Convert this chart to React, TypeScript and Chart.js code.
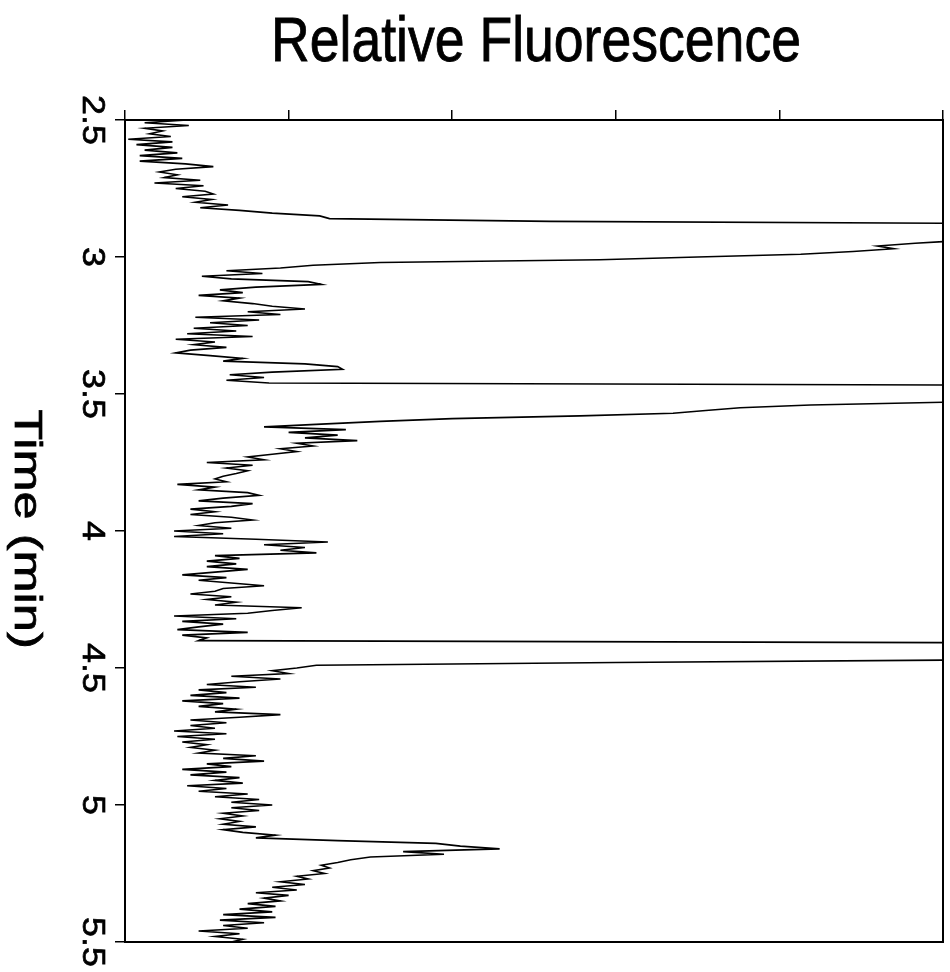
import React, { useEffect, useRef } from "react";
import { Chart, registerables } from "chart.js";

Chart.register(...registerables);

const TITLE = "Relative Fluorescence";
const Y_LABEL = "Time (min)";
const X_MIN = 0;
const X_MAX = 5;
const X_TICK_STEP = 1;
const Y_TICKS = [2.5, 3, 3.5, 4, 4.5, 5, 5.5];
const Y_TICK_LABELS = ["2.5", "3", "3.5", "4", "4.5", "5", "5.5"];

// sampling grid of the trace (min)
const TIME_START = 2.5;
const TIME_STEP = 0.01;

// relative fluorescence read at each sample (values above 5 run off the plot)
const FLUORESCENCE = [
  0.38, 0.12, 0.39, 0.12, 0.23, 0.15, 0.28, 0.02, 0.29, 0.07,
  0.29, 0.12, 0.32, 0.09, 0.35, 0.09, 0.37, 0.54, 0.31, 0.21,
  0.32, 0.24, 0.46, 0.18, 0.48, 0.31, 0.49, 0.54, 0.35, 0.53,
  0.43, 0.63, 0.46, 0.70, 0.90, 1.19, 1.25, 2.6, 6.0, 7.0,
  7.5, 7.5, 7.0, 6.0, 5.1, 4.83, 4.6, 4.7, 4.45, 4.13,
  3.5, 2.9, 1.56, 1.15, 0.95, 0.62, 0.84, 0.47, 0.65, 1.12,
  1.2, 0.8, 0.58, 0.72, 0.45, 0.7, 0.6, 0.78, 0.9, 1.1,
  0.75, 0.95, 0.43, 0.82, 0.52, 0.75, 0.42, 0.68, 0.38, 0.78,
  0.31, 0.55, 0.42, 0.62, 0.4, 0.31, 0.52, 0.72, 0.6, 1.1,
  1.3, 1.33, 0.9, 0.64, 0.85, 0.62, 0.88, 6.5, 7.5, 8,
  8, 7.5, 6.5, 5.0, 4.19, 3.76, 3.55, 3.35, 2.78, 2.0,
  1.56, 1.2, 0.85, 1.35, 1.0, 1.3, 1.1, 1.42, 1.05, 1.15,
  0.95, 1.05, 0.9, 0.75, 0.85, 0.5, 0.78, 0.62, 0.75, 0.68,
  0.6, 0.55, 0.62, 0.32, 0.55, 0.45, 0.75, 0.82, 0.6, 0.45,
  0.78, 0.65, 0.4, 0.55, 0.4, 0.65, 0.78, 0.55, 0.45, 0.65,
  0.3, 0.6, 0.3, 0.8, 1.24, 0.85, 1.1, 0.95, 1.17, 0.55,
  0.7, 0.5, 0.68, 0.5, 0.75, 0.55, 0.35, 0.62, 0.45, 0.65,
  0.85, 0.6, 0.55, 0.4, 0.65, 0.5, 0.68, 0.55, 1.08, 0.9,
  0.75, 0.3, 0.68, 0.35, 0.6, 0.45, 0.32, 0.75, 0.35, 0.5,
  0.45, 6.5, 7.5, 8, 8, 7.5, 6.5, 5.3, 3.0, 1.17,
  1.05, 0.9, 1.0, 0.65, 0.95, 0.7, 0.5, 0.8, 0.45, 0.62,
  0.4, 0.7, 0.35, 0.6, 0.45, 0.68, 0.55, 0.95, 0.7, 0.4,
  0.62, 0.4, 0.55, 0.3, 0.62, 0.32, 0.55, 0.35, 0.5, 0.4,
  0.55, 0.45, 0.8, 0.6, 0.85, 0.5, 0.65, 0.35, 0.62, 0.4,
  0.7, 0.55, 0.72, 0.38, 0.62, 0.45, 0.75, 0.55, 0.82, 0.65,
  0.9, 0.65, 0.82, 0.6, 0.72, 0.58, 0.7, 0.6, 0.8, 0.6,
  0.72, 0.92, 0.8, 1.3, 1.9, 2.05, 2.29, 1.7, 1.95, 1.5,
  1.38, 1.3, 1.2, 1.25, 1.15, 1.22, 1.05, 1.12, 0.95, 1.1,
  0.9, 1.05, 0.8, 1.0, 0.85, 0.95, 0.75, 0.92, 0.7, 0.9,
  0.6, 0.92, 0.58, 0.85, 0.6, 0.75, 0.45, 0.7, 0.55, 0.72,
  0.65,
];

const FONT = '"Liberation Sans", Arial, Helvetica, sans-serif';

function heavyText(ctx: CanvasRenderingContext2D, s: string) {
  ctx.fillText(s, 0, 0);
  ctx.lineWidth = 0.7;
  ctx.strokeText(s, 0, 0);
}

const textPlugin = {
  id: "customText",
  afterDraw(chart: any) {
    const { ctx, chartArea: a, scales } = chart;
    ctx.save();
    ctx.strokeStyle = "#000";
    ctx.lineWidth = 2;
    ctx.strokeRect(a.left, a.top, a.right - a.left, a.bottom - a.top);
    ctx.fillStyle = "#000";

    // title (stretched vertically like the scanned figure)
    ctx.save();
    ctx.font = `52px ${FONT}`;
    ctx.textAlign = "center";
    ctx.textBaseline = "alphabetic";
    ctx.translate((a.left + a.right) / 2 + 2, 61);
    ctx.scale(1.03, 1.22);
    heavyText(ctx, TITLE);
    ctx.restore();

    // y tick labels, rotated clockwise
    const ys = scales.y;
    Y_TICKS.forEach((v, i) => {
      const py = ys.getPixelForValue(v);
      ctx.save();
      ctx.font = `32px ${FONT}`;
      ctx.textAlign = "center";
      ctx.textBaseline = "alphabetic";
      ctx.translate(a.left - 42, py);
      ctx.rotate(Math.PI / 2);
      ctx.scale(1.12, 1);
      heavyText(ctx, Y_TICK_LABELS[i]);
      ctx.restore();
    });

    // y axis title, rotated clockwise
    ctx.save();
    ctx.font = `38px ${FONT}`;
    ctx.textAlign = "center";
    ctx.textBaseline = "alphabetic";
    ctx.translate(15, (a.top + a.bottom) / 2 - 2);
    ctx.rotate(Math.PI / 2);
    ctx.scale(1.33, 1);
    heavyText(ctx, Y_LABEL);
    ctx.restore();

    ctx.restore();
  },
};

export default function App() {
  const ref = useRef<HTMLCanvasElement | null>(null);

  useEffect(() => {
    if (!ref.current) return;
    const points = FLUORESCENCE.map((v, i) => ({
      x: v,
      y: TIME_START + i * TIME_STEP,
    }));
    const gridOpts = {
      drawOnChartArea: false,
      drawTicks: true,
      tickLength: 10,
      color: "#000",
      lineWidth: 1.5,
    };
    const chart = new Chart(ref.current, {
      type: "scatter",
      data: {
        datasets: [
          {
            data: points,
            showLine: true,
            borderColor: "#000",
            borderWidth: 1.6,
            pointRadius: 0,
            pointHoverRadius: 0,
            tension: 0,
          },
        ],
      },
      options: {
        animation: false,
        responsive: false,
        events: [],
        layout: { padding: { left: 115, top: 110, right: 7, bottom: 30 } },
        plugins: {
          legend: { display: false },
          tooltip: { enabled: false },
          title: { display: false },
        },
        scales: {
          x: {
            type: "linear",
            position: "top",
            min: X_MIN,
            max: X_MAX,
            ticks: { stepSize: X_TICK_STEP, display: false },
            grid: gridOpts,
            border: { color: "#000", width: 2 },
          },
          y: {
            type: "linear",
            position: "left",
            reverse: true,
            min: Y_TICKS[0],
            max: Y_TICKS[Y_TICKS.length - 1],
            ticks: { stepSize: 0.5, display: false },
            grid: gridOpts,
            border: { color: "#000", width: 2 },
          },
        },
      },
      plugins: [textPlugin],
    });
    return () => chart.destroy();
  }, []);

  return (
    <div style={{ position: "absolute", left: 0, top: 0, width: 950, height: 972, background: "#fff" }}>
      <canvas ref={ref} width={950} height={972} style={{ width: 950, height: 972, display: "block" }} />
    </div>
  );
}
